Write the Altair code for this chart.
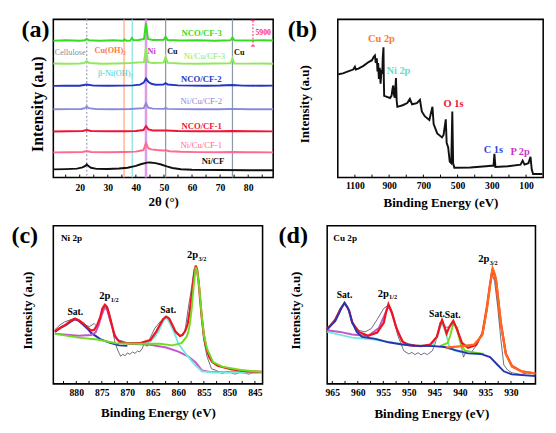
import altair as alt
import pandas as pd

SERIF = "Liberation Serif"

# ======================= (a) XRD patterns =======================
xrd_names = ["NCO/CF-3", "Ni/Cu/CF-3", "NCO/CF-2", "Ni/Cu/CF-2", "NCO/CF-1", "Ni/Cu/CF-1", "Ni/CF"]
xrd_colors = ["#35dc22", "#90e85c", "#2236bf", "#8a8ad8", "#ee1433", "#ff6a92", "#111111"]
xrd_x = [
    [10.6, 15, 20, 21.8, 22.5, 23.3, 27, 32, 35.5, 36, 36.6, 38, 38.6, 39.2, 41, 42.9, 43.6, 44.3, 46, 49.9, 50.6, 51.3, 56, 62, 68, 73.7, 74.4, 75.1, 80, 85, 88.9],
    [10.6, 15, 20, 21.6, 22.5, 23.4, 28, 33, 38, 42.9, 43.6, 44.3, 46, 49.9, 50.6, 51.3, 56, 62, 68, 73.7, 74.4, 75.1, 80, 85, 88.9],
    [10.6, 15, 20, 22.5, 25, 30, 35, 39, 41.5, 42.8, 43.6, 44.4, 45.5, 47, 49.8, 50.6, 51.4, 55, 60, 65, 70, 74.4, 78, 84, 88.9],
    [10.6, 16, 20.5, 21.8, 22.5, 23.2, 26, 32, 38, 42.8, 43.6, 44.4, 46, 50, 50.6, 51.2, 56, 62, 70, 74.4, 80, 88.9],
    [10.6, 16, 21, 22.5, 24, 30, 36, 40, 42.7, 43.6, 44.5, 46, 50.6, 55, 62, 70, 74.4, 80, 88.9],
    [10.6, 16, 21, 22.5, 24, 30, 36, 40, 42.7, 43.6, 44.4, 45.5, 47.5, 49.5, 50.6, 52, 56, 62, 70, 74.4, 80, 88.9],
    [10.6, 15, 19, 21, 22, 22.5, 23, 24, 26, 30, 34, 37, 40, 42, 44, 45, 47, 49, 51, 53, 56, 60, 70, 80, 88.9],
]
xrd_y = [
    [147, 147.5, 147, 147.5, 149, 147.5, 147, 147.5, 147, 148.5, 147, 147.3, 150, 147.5, 147.8, 149, 166, 149, 147.8, 148, 151.5, 147.8, 147.3, 147.5, 147, 147.5, 150.5, 147.5, 147.3, 147.5, 147.2],
    [122.5, 122.3, 122.6, 123, 125, 123, 122.3, 122.5, 123, 124, 139.7, 124, 123, 123.5, 129.7, 123.2, 122.5, 122.3, 122.5, 122.8, 128, 122.6, 122.4, 122.5, 122.3],
    [98.5, 98.8, 98.7, 100, 98.8, 98.6, 98.8, 99, 99.8, 102, 106.3, 103, 100.8, 99.8, 100, 101.5, 100, 99, 98.8, 98.7, 98.9, 99.5, 98.8, 98.7, 98.8],
    [73.3, 73.5, 73.6, 74.5, 76.3, 74.5, 73.5, 73.4, 73.6, 74.5, 79.7, 75, 74, 73.8, 74.8, 73.8, 73.5, 73.4, 73.3, 73.8, 73.4, 73.3],
    [49.5, 49.8, 50, 51, 50, 49.7, 49.8, 50, 51, 55.3, 51.8, 50.5, 50.6, 49.9, 49.7, 49.8, 50, 49.7, 49.6],
    [27, 27.2, 27.5, 28.5, 27.5, 27.2, 27.4, 27.8, 29.5, 37, 31.5, 30.2, 29.5, 29, 29.2, 28.2, 27.6, 27.3, 27.2, 27.5, 27.2, 27],
    [8.7, 9, 9.5, 10.8, 12.5, 14, 12.5, 10.5, 9.3, 9.2, 9.6, 10.5, 12.5, 14.5, 16, 16.2, 15.5, 14, 12, 10.2, 8.8, 8.3, 8, 7.8, 7.7],
]
xrd_label_x = [63.4, 64.4, 63.3, 63.3, 63.4, 63.3, 67.5]
xrd_label_y = [155.7, 130.3, 106.3, 82.0, 55.5, 34.7, 17.3]

phase_lines_x = [22.5, 35.8, 38.7, 43.6, 50.6, 74.4]
phase_lines_color = ["#9aa8ba", "#ffa27e", "#7fe2e0", "#dd9ce6", "#8c9aaa", "#8c9aaa"]
phase_lines_width = [1.3, 1.2, 1.2, 2.6, 1.3, 1.3]
phase_lines_dotted = [True, False, False, False, False, False]

phase_text = ["Cellulose", "Cu(OH)₂", "Ni", "Cu", "Cu", "β-Ni(OH)₂"]
phase_text_x = [16.6, 30.8, 45.6, 53.0, 76.8, 32.8]
phase_text_y = [135.3, 137.0, 136.3, 136.3, 135.3, 112.0]
phase_text_color = ["#7f8fa0", "#ff7a3a", "#c23ccc", "#111111", "#111111", "#38d0d0"]
phase_text_bold = [False, True, True, True, True, False]

scale_bar_x = [81.7]
scale_bar_lo = [141.3]
scale_bar_hi = [169.0]
scale_bar_label = ["5900"]

xrd_ticks = [15, 20, 25, 30, 35, 40, 45, 50, 55, 60, 65, 70, 75, 80, 85]
xrd_tick_labels = [20, 30, 40, 50, 60, 70, 80]

# ======================= (b) XPS survey =======================
surv_e = [1197, 1170, 1140, 1110, 1100, 1095, 1080, 1050, 1020, 1000, 990, 983, 978, 972, 968, 964, 960, 955, 950, 945,
          940, 937, 933, 931, 929, 913, 895, 886, 880, 876, 872, 867, 860, 856, 852, 821, 794, 779, 766, 738,
          720, 709, 692, 665, 647, 640, 619, 591, 582, 569, 564, 555, 546, 537, 531, 526, 519, 426, 334, 290,
          285, 279, 206, 132, 120, 109, 86, 74, 67, 59, 4]
surv_i = [110, 111, 113, 115, 118, 115, 116, 119, 123, 125, 128.7, 130, 122, 127, 113, 122, 105, 117, 100, 113,
          112, 128.7, 138.7, 105, 87, 86, 84.7, 87, 95, 98, 88.7, 85, 106, 82, 75.3, 77, 79.3, 83.7, 78, 79.3,
          82.7, 70.3, 65.3, 61.3, 75.3, 57, 47, 42.7, 45.3, 62, 37, 32, 17, 15.3, 70.3, 15.3, 10.3, 10.7, 12, 12.7,
          25.3, 11.3, 12, 13.7, 18, 13.7, 15.3, 22, 8.7, 3.7, 3.7]
surv_labels = ["Cu 2p", "Ni 2p", "O 1s", "C 1s", "P 2p"]
surv_label_e = [945, 846, 524, 291, 135]
surv_label_i = [147, 113.7, 78, 29.5, 27.5]
surv_label_color = ["#ff7733", "#5ee0cc", "#ee1133", "#3344dd", "#cc33cc"]
surv_ticks = [100, 200, 300, 400, 500, 600, 700, 800, 900, 1000, 1100]
surv_tick_labels = [1100, 900, 700, 500, 300, 100]

# ======================= (c) Ni 2p =======================
ni_raw_e = [884.2, 883.2, 882.3, 881.4, 880.2, 879.3, 878.3, 877.4, 876.5, 875.9, 875.0, 874.4, 873.8, 873.1, 872.5, 871.9,
            871.3, 870.9, 870.4, 870.0, 869.5, 869.0, 868.5, 868.0, 867.6, 867.1, 866.7, 866.1, 865.5, 864.6, 863.6, 862.7,
            862.1, 861.5, 860.6, 860.0, 859.4, 858.7, 858.1, 857.5, 856.9, 856.4, 856.0, 855.6, 855.1, 854.4, 853.5, 852.6,
            851.4, 850.2, 848.9, 847.7, 846.2, 845.0, 843.7]
ni_raw_i = [57.7, 62.7, 66, 67.7, 70, 67.7, 62.7, 61, 64.3, 61, 76, 84.3, 81, 66, 46, 36,
            29.3, 31.5, 30, 33, 31.5, 34, 32.5, 35, 34, 37.5, 42.7, 40, 49.3, 59.3, 66, 71,
            69.3, 64.3, 54.3, 52, 52, 56, 79.3, 99.3, 122.7, 124.3, 109.3, 79.3, 49.3, 29.3, 16, 14.3,
            11, 13.3, 10.3, 12.7, 10.3, 12.7, 13.3]
ni_env_e = [884.2, 883.2, 882.0, 881.0, 880.3, 879.6, 878.6, 877.8, 877.1, 876.5, 875.9, 875.3, 874.9, 874.4, 874.0, 873.6,
            873.1, 872.5, 871.6, 870.5, 869.0, 867.3, 865.5, 864.3, 863.6, 863.0, 862.4, 861.8, 861.2, 860.6, 859.7, 859.2,
            858.7, 858.2, 857.8, 857.5, 857.2, 856.9, 856.6, 856.3, 856.0, 855.7, 855.4, 855.0, 854.6, 854.0, 853.4, 852.3,
            849.5, 846.5, 843.7]
ni_env_i = [56, 59.5, 63.3, 67.5, 69.3, 68, 64.3, 60, 56.7, 57.5, 62.7, 71, 80, 84.3, 82, 75,
            64.3, 51, 45, 43.5, 43.3, 43.7, 46.7, 56, 63, 69, 71.7, 69.5, 63, 56, 51, 52,
            56, 63, 76, 90, 103, 117, 126, 121, 107, 88, 70, 52, 40, 29, 23.5, 19.3,
            15.3, 13.3, 12.7]
ni_sat1_e = [884.2, 883.0, 882.0, 881.0, 880.3, 879.5, 878.6, 877.7, 877.1, 875.3, 873.4, 871.6, 870.0]
ni_sat1_i = [55.3, 60, 62.7, 66.5, 68.7, 67, 62.7, 58, 54.3, 47.7, 43.7, 41, 40.5]
ni_p12_e = [884.2, 879.6, 877.1, 876.2, 875.6, 875.1, 874.4, 873.9, 873.5, 873.1, 872.5, 871.9, 869.8, 865.5, 862.4,
            860.0, 858.1, 856.6, 855.4, 853.8, 843.7]
ni_p12_i = [53.3, 51.3, 52, 55, 62.7, 72, 82, 78, 70, 62.7, 53, 46.7, 42.7, 41.7, 38.7,
            34.3, 29.3, 22.7, 14.3, 12.7, 12]
ni_sat2_e = [867.9, 865.5, 864.6, 863.9, 863.3, 862.7, 862.4, 862.0, 861.2, 860.6, 860.0, 858.4, 856.9, 855.4, 853.2, 843.7]
ni_sat2_i = [42.7, 45.3, 50, 56, 63, 69, 70, 68, 59.3, 52, 42.7, 31, 21, 13.3, 12, 12]
ni_p32_e = [884.2, 879.6, 875.9, 872.2, 867.3, 863.6, 861.2, 859.4, 858.4, 858.1, 857.8, 857.4, 857.0, 856.6, 856.3,
            856.0, 855.7, 855.4, 855.0, 854.4, 853.2, 851.4, 847.7, 843.7]
ni_p32_i = [53.3, 49.3, 47.3, 43.3, 42.7, 42.7, 41, 43.3, 50, 54.3, 62, 79.3, 104, 124.3, 120,
            108, 90, 71, 52, 37.7, 23.3, 18.3, 14.7, 12.7]
ni_text = [("Sat.", 880.2, 76.7), ("Sat.", 862.0, 78.7)]
ni_peaks = [("2p", "1/2", 874.4, 93.3), ("2p", "3/2", 857.2, 136.7)]
ni_ticks = [845, 847.5, 850, 852.5, 855, 857.5, 860, 862.5, 865, 867.5, 870, 872.5, 875, 877.5, 880, 882.5]
ni_tick_labels = [880, 875, 870, 865, 860, 855, 850, 845]

# ======================= (d) Cu 2p =======================
cu_raw_e = [966.0, 964.7, 963.5, 962.6, 961.7, 960.8, 959.8, 958.6, 957.4, 956.2, 954.9, 954.0, 953.1, 952.2, 951.6, 951.0,
            950.0, 949.4, 948.8, 948.2, 947.6, 947.0, 946.4, 945.4, 944.8, 943.9, 943.3, 942.7, 942.1, 941.5, 940.5, 939.9,
            939.3, 938.7, 937.8, 936.6, 935.3, 934.7, 933.8, 933.2, 932.6, 932.0, 931.4, 930.7, 929.8, 928.0, 926.8, 925.2]
cu_raw_i = [60, 65, 80, 85, 78.3, 61.7, 56.7, 55, 58.3, 68.3, 80, 83.3, 71.7, 51.7, 43.3, 35,
            31.7, 33.3, 31, 33, 30.7, 32.7, 31, 35, 43.3, 65, 61.7, 60, 60, 63.3, 60, 45,
            28.3, 35, 33.3, 41.7, 58.3, 78.3, 118.3, 108.3, 81.7, 48.3, 20, 15, 11.7, 10, 11.7, 11]
cu_env_e = [966.0, 964.4, 963.5, 962.6, 961.7, 961.1, 959.8, 958.0, 956.2, 954.9, 954.5, 954.0, 953.4, 952.5, 951.3, 950.0,
            947.6, 945.8, 944.5, 943.9, 943.5, 943.0, 942.6, 942.1, 941.3, 940.5, 939.6, 938.4, 936.9, 935.6, 934.7, 934.1,
            933.6, 933.2, 932.9, 932.0, 931.0, 929.8, 928.0, 925.2]
cu_env_i = [57.7, 68.3, 77.7, 85.7, 77.7, 65, 55, 51, 54.3, 65, 75, 84.3, 76.7, 60, 45, 41,
            40, 41.7, 50, 61.7, 67.7, 60, 53.3, 60, 66.7, 56.7, 43.3, 38.3, 41, 53.3, 81.7, 105,
            121.7, 115, 108.3, 65, 31.7, 19, 13.3, 11]
cu_base_e = [966.0, 964.4, 963.5, 963.2, 962.6, 962.0, 961.7, 961.1, 960.2, 959.2, 956.5, 954.0, 951.3, 948.8, 945.1, 943.0,
             940.9, 938.4, 935.9, 934.1, 932.6, 931.4, 929.8, 925.2]
cu_base_i = [57.7, 66.7, 76.7, 81, 85.7, 81, 76.7, 65, 55, 49.7, 47.7, 44, 41.7, 40.3, 40, 39,
             35.7, 32.3, 31.7, 28.3, 20, 13.3, 10, 8.3]
cu_p12_e = [966.0, 963.5, 961.1, 958.0, 955.9, 954.6, 954.0, 953.2, 952.2, 951.0, 948.8]
cu_p12_i = [56.7, 55, 52.3, 50.7, 59, 75, 82.7, 73.3, 55, 43.3, 40.3]
cu_sat2_e = [966.0, 961.1, 956.8, 952.5, 948.8, 945.4, 944.4, 943.9, 943.5, 942.8, 942.1, 940.9, 939.0]
cu_sat2_i = [55, 49, 47, 43, 40.3, 41, 50, 60, 64.3, 55, 40, 35, 33]
cu_sat3_e = [943.9, 942.4, 941.9, 941.6, 941.2, 940.7, 940.2, 939.8, 939.0, 937.2, 935.3]
cu_sat3_i = [40, 43.3, 51, 57.7, 65, 60, 50, 41.7, 35, 33.3, 31.7]
cu_p32_e = [942.7, 939.6, 937.2, 935.6, 934.7, 934.1, 933.6, 933.2, 932.9, 932.0, 931.0, 929.8, 928.0, 925.2]
cu_p32_i = [38.3, 40, 41.7, 51.7, 80, 104.3, 122.3, 116.7, 110, 65, 31.7, 18.3, 13.3, 11]
cu_text = [("Sat.", 962.6, 94.0), ("Sat.", 944.5, 74.3), ("Sat.", 941.4, 73.0)]
cu_peaks = [("2p", "1/2", 955.0, 95.0), ("2p", "3/2", 935.3, 131.7)]
cu_ticks = [927.5, 930, 932.5, 935, 937.5, 940, 942.5, 945, 947.5, 950, 952.5, 955, 957.5, 960, 962.5, 965]
cu_tick_labels = [965, 960, 955, 950, 945, 940, 935, 930]


# ======================= helpers =======================
def encodings(xdom, xrev, xlabels, xtitle, ydom, h, xlp, xtp, ytp, ytsize):
    X = alt.X("x:Q",
              scale=alt.Scale(domain=xdom, reverse=xrev, nice=False, zero=False),
              axis=alt.Axis(values=xlabels, title=xtitle, format="d", labelPadding=xlp,
                            titlePadding=xtp, labelFlush=False, labelOverlap=False))
    Y = alt.Y("y:Q",
              scale=alt.Scale(domain=ydom, nice=False, zero=False),
              axis=alt.Axis(labels=False, title="Intensity (a.u)", titlePadding=ytp,
                            titleFontSize=ytsize, titleY=h / 2 + 5.5))
    return X, Y


def line(xs, ys, X, Y, color, width, **kw):
    df = pd.DataFrame({"x": xs, "y": ys})
    return alt.Chart(df).mark_line(color=color, strokeWidth=width, **kw).encode(x=X, y=Y)


def texts(labels, xs, ys, X, Y, color="black", size=9, **kw):
    df = pd.DataFrame({"x": xs, "y": ys, "t": labels})
    return alt.Chart(df).mark_text(color=color, fontSize=size, **kw).encode(x=X, y=Y, text="t:N")


def ticks(vals, X, h):
    df = pd.DataFrame({"x": vals})
    return alt.Chart(df).mark_rule(color="black", strokeWidth=1).encode(
        x=X, y=alt.value(h), y2=alt.value(h - 3))


def panel_letter(s, dx):
    df = pd.DataFrame({"t": [s]})
    return alt.Chart(df).mark_text(align="left", baseline="top", fontSize=25,
                                   font=SERIF, fontWeight="bold", color="black").encode(
        x=alt.value(dx), y=alt.value(-2), text="t:N")


def peak_label(main, sub, x, y, X, Y):
    df = pd.DataFrame({"x": [x], "y": [y], "m": [main], "s": [sub]})
    base = alt.Chart(df)
    m = base.mark_text(fontSize=11, align="center", baseline="middle", color="black").encode(
        x=X, y=Y, text="m:N")
    s = base.mark_text(fontSize=6.5, align="left", baseline="middle", dx=6, dy=3.5, color="black").encode(
        x=X, y=Y, text="s:N")
    return [m, s]


# ======================= panel (a) =======================
WA, HA = 228, 164
XA, YA = encodings([10.6, 88.9], False, xrd_tick_labels, "2θ (°)", [0, 170], HA, 5.5, 3, 8.5, 16.5)
layers_a = []
for xv, c, w, dot in zip(phase_lines_x, phase_lines_color, phase_lines_width, phase_lines_dotted):
    kw = {"strokeDash": [2, 2]} if dot else {}
    layers_a.append(alt.Chart(pd.DataFrame({"x": [xv]})).mark_rule(color=c, strokeWidth=w, **kw).encode(x=XA))
for xs, ys, c in zip(xrd_x, xrd_y, xrd_colors):
    layers_a.append(line(xs, ys, XA, YA, c, 2.0))
for name, lx, ly, c in zip(xrd_names, xrd_label_x, xrd_label_y, xrd_colors):
    bold = name.startswith("NCO") or name == "Ni/CF"
    layers_a.append(texts([name], [lx], [ly], XA, YA, color=c, size=9,
                          fontWeight="bold" if bold else "normal"))
for t, px, py, c, b in zip(phase_text, phase_text_x, phase_text_y, phase_text_color, phase_text_bold):
    layers_a.append(texts([t], [px], [py], XA, YA, color=c, size=8.5,
                          fontWeight="bold" if b else "normal"))
sb = pd.DataFrame({"x": scale_bar_x, "y": scale_bar_lo, "y2": scale_bar_hi})
layers_a.append(alt.Chart(sb).mark_rule(color="#ff3366", strokeWidth=1.1, strokeDash=[2, 1.5]).encode(
    x=XA, y=YA, y2="y2:Q"))
caps = pd.DataFrame({"x": [scale_bar_x[0] - 0.7] * 2, "x2": [scale_bar_x[0] + 0.7] * 2,
                     "y": [scale_bar_lo[0], scale_bar_hi[0]]})
layers_a.append(alt.Chart(caps).mark_rule(color="#ff3366", strokeWidth=1.1).encode(x=XA, x2="x2:Q", y=YA))
layers_a.append(texts(scale_bar_label, [scale_bar_x[0] + 0.9], [155.0], XA, YA, color="#ff3366",
                      size=8, align="left", fontWeight="bold"))
layers_a.append(ticks(xrd_ticks, XA, HA))
layers_a.append(panel_letter("(a)", -33))
panel_a = alt.layer(*layers_a).properties(width=WA, height=HA)

# ======================= panel (b) =======================
WB, HB = 213, 164
XB, YB = encodings([0, 1200], True, surv_tick_labels, "Binding Energy (eV)", [0, 168.5], HB, 3.5, 5.5, 27.5, 13.5)
layers_b = [line(surv_e, surv_i, XB, YB, "#111111", 2.0)]
for t, e, i, c in zip(surv_labels, surv_label_e, surv_label_i, surv_label_color):
    layers_b.append(texts([t], [e], [i], XB, YB, color=c, size=10.8, fontWeight="bold"))
layers_b.append(ticks(surv_ticks, XB, HB))
layers_b.append(panel_letter("(b)", -52))
panel_b = alt.layer(*layers_b).properties(width=WB, height=HB)

# ======================= panel (c) =======================
WC, HC = 217, 164
XC, YC = encodings([843.5, 884.5], True, ni_tick_labels, "Binding Energy (eV)", [0, 168.5], HC, 4, 9, 19.5, 13.5)
layers_c = [
    line(ni_raw_e, ni_raw_i, XC, YC, "#5a5a66", 0.9),
    line(ni_sat1_e, ni_sat1_i, XC, YC, "#2535b0", 2.0),
    line(ni_p12_e, ni_p12_i, XC, YC, "#c257cc", 2.0),
    line(ni_sat2_e, ni_sat2_i, XC, YC, "#72eadf", 2.0),
    line(ni_env_e, ni_env_i, XC, YC, "#f01420", 2.3),
    line(ni_p32_e, ni_p32_i, XC, YC, "#6fdc22", 2.0),
]
layers_c.append(texts(["Ni 2p"], [883.0], [155.5], XC, YC, size=9.5, align="left", fontWeight="bold"))
for t, e, i in ni_text:
    layers_c.append(texts([t], [e], [i], XC, YC, size=10, fontWeight="bold"))
for m, s, e, i in ni_peaks:
    layers_c.extend(peak_label(m, s, e, i, XC, YC))
layers_c.append(ticks(ni_ticks, XC, HC))
layers_c.append(panel_letter("(c)", -43.5))
panel_c = alt.layer(*layers_c).properties(width=WC, height=HC)

# ======================= panel (d) =======================
WD, HD = 216, 164
XD, YD = encodings([925.2, 966], True, cu_tick_labels, "Binding Energy (eV)", [0, 167.5], HD, 4.5, 9, 26, 13.5)
layers_d = [
    line(cu_raw_e, cu_raw_i, XD, YD, "#5a5a70", 0.9),
    line(cu_sat2_e, cu_sat2_i, XD, YD, "#72eadf", 2.0),
    line(cu_p12_e, cu_p12_i, XD, YD, "#c257cc", 2.0),
    line(cu_sat3_e, cu_sat3_i, XD, YD, "#6fdc22", 2.0),
    line(cu_env_e, cu_env_i, XD, YD, "#f01420", 2.3),
    line(cu_base_e, cu_base_i, XD, YD, "#2535b0", 2.0),
    line(cu_p32_e, cu_p32_i, XD, YD, "#ff6a1a", 2.3),
]
layers_d.append(texts(["Cu 2p"], [964.8], [154.5], XD, YD, size=9.5, align="left", fontWeight="bold"))
for t, e, i in cu_text:
    layers_d.append(texts([t], [e], [i], XD, YD, size=10, fontWeight="bold"))
for m, s, e, i in cu_peaks:
    layers_d.extend(peak_label(m, s, e, i, XD, YD))
layers_d.append(ticks(cu_ticks, XD, HD))
layers_d.append(panel_letter("(d)", -50.5))
panel_d = alt.layer(*layers_d).properties(width=WD, height=HD)

row1 = alt.hconcat(panel_a, panel_b, spacing=9)
row2 = alt.hconcat(panel_c, panel_d, spacing=10)

chart = alt.vconcat(row1, row2, spacing=13).properties(
    padding={"left": 2, "top": 1, "right": 0, "bottom": 0},
    background="white",
).configure_view(
    stroke="black", strokeWidth=1.6
).configure_axis(
    grid=False, domain=False, ticks=False, tickSize=0,
    labelFont=SERIF, titleFont=SERIF, labelFontWeight="bold", titleFontWeight="bold",
    labelColor="black", titleColor="black", labelFontSize=10, titleFontSize=13.5,
).configure_text(
    font=SERIF, fontWeight="bold"
)

chart.save("out.html", embed_options={"renderer": "svg", "actions": False})
